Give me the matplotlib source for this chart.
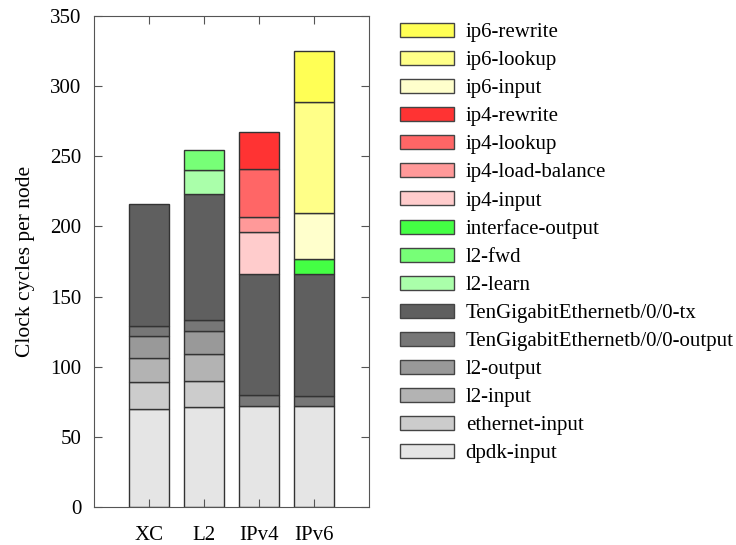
import numpy as np
import matplotlib.pyplot as plt
from matplotlib.patches import Patch

plt.rcParams['font.family'] = ['Liberation Serif', 'DejaVu Serif']

# Datos (ciclos por nodo, de abajo hacia arriba)
categorias = ['XC', 'L2', 'IPv4', 'IPv6']
nodos = ['dpdk-input', 'ethernet-input', 'l2-input', 'l2-output',
         'TenGigabitEthernetb/0/0-output', 'TenGigabitEthernetb/0/0-tx',
         'l2-learn', 'l2-fwd', 'interface-output',
         'ip4-input', 'ip4-load-balance', 'ip4-lookup', 'ip4-rewrite',
         'ip6-input', 'ip6-lookup', 'ip6-rewrite']
valores = [
    [70.0, 71.0, 71.7, 71.7],   # dpdk-input
    [18.8, 18.5, 0, 0],         # ethernet-input
    [17.2, 19.8, 0, 0],         # l2-input
    [15.7, 16.4, 0, 0],         # l2-output
    [7.6, 7.6, 7.8, 7.6],       # TenGig output
    [86.4, 89.6, 86.9, 86.6],   # TenGig tx
    [0, 17.1, 0, 0],            # l2-learn
    [0, 14.5, 0, 0],            # l2-fwd
    [0, 0, 0, 11.0],            # interface-output
    [0, 0, 29.8, 0],            # ip4-input
    [0, 0, 10.5, 0],            # ip4-load-balance
    [0, 0, 34.0, 0],            # ip4-lookup
    [0, 0, 26.7, 0],            # ip4-rewrite
    [0, 0, 0, 32.9],            # ip6-input
    [0, 0, 0, 78.6],            # ip6-lookup
    [0, 0, 0, 36.8],            # ip6-rewrite
]
colores = ['#e5e5e5', '#cccccc', '#b3b3b3', '#999999', '#777777', '#5f5f5f',
           '#aaffaa', '#77ff77', '#44ff44',
           '#ffcccc', '#ff9999', '#ff6666', '#ff3333',
           '#ffffcc', '#ffff88', '#ffff55']

fig = plt.figure(figsize=(7.36, 5.45), dpi=100)
ax = fig.add_axes([0.1277, 0.0697, 0.3737, 0.9009])

x = np.arange(len(categorias))
base = np.zeros(len(categorias))
handles = []
for nombre, vals, col in zip(nodos, valores, colores):
    vals = np.array(vals, dtype=float)
    m = vals > 0
    ax.bar(x[m], vals[m], 0.71, bottom=base[m], color=col,
           edgecolor='#333333', linewidth=1.0)
    handles.append(Patch(facecolor=col, edgecolor='#444444', linewidth=1.0))
    base += vals

ax.set_xlim(-1, 4)
ax.set_ylim(0, 350)
ax.set_xticks(x)
ax.set_xticklabels(categorias)
ax.set_yticks(np.arange(0, 351, 50))
ax.tick_params(axis='both', direction='in', top=True, right=True, length=6,
               color='#555555', labelsize=15)
ax.tick_params(axis='y', pad=9)
ax.tick_params(axis='x', pad=14)
for s in ax.spines.values():
    s.set_color('#555555')
ax.set_ylabel('Clock cycles per node', fontsize=15.5, labelpad=11)

fig.legend(handles[::-1], nodos[::-1], loc='upper left',
           bbox_to_anchor=(0.5435, 0.958), frameon=False, fontsize=15,
           handlelength=2.6, handleheight=0.67, labelspacing=0.415,
           handletextpad=0.55, borderaxespad=0, borderpad=0)

fig.savefig('out.png', dpi=100)
